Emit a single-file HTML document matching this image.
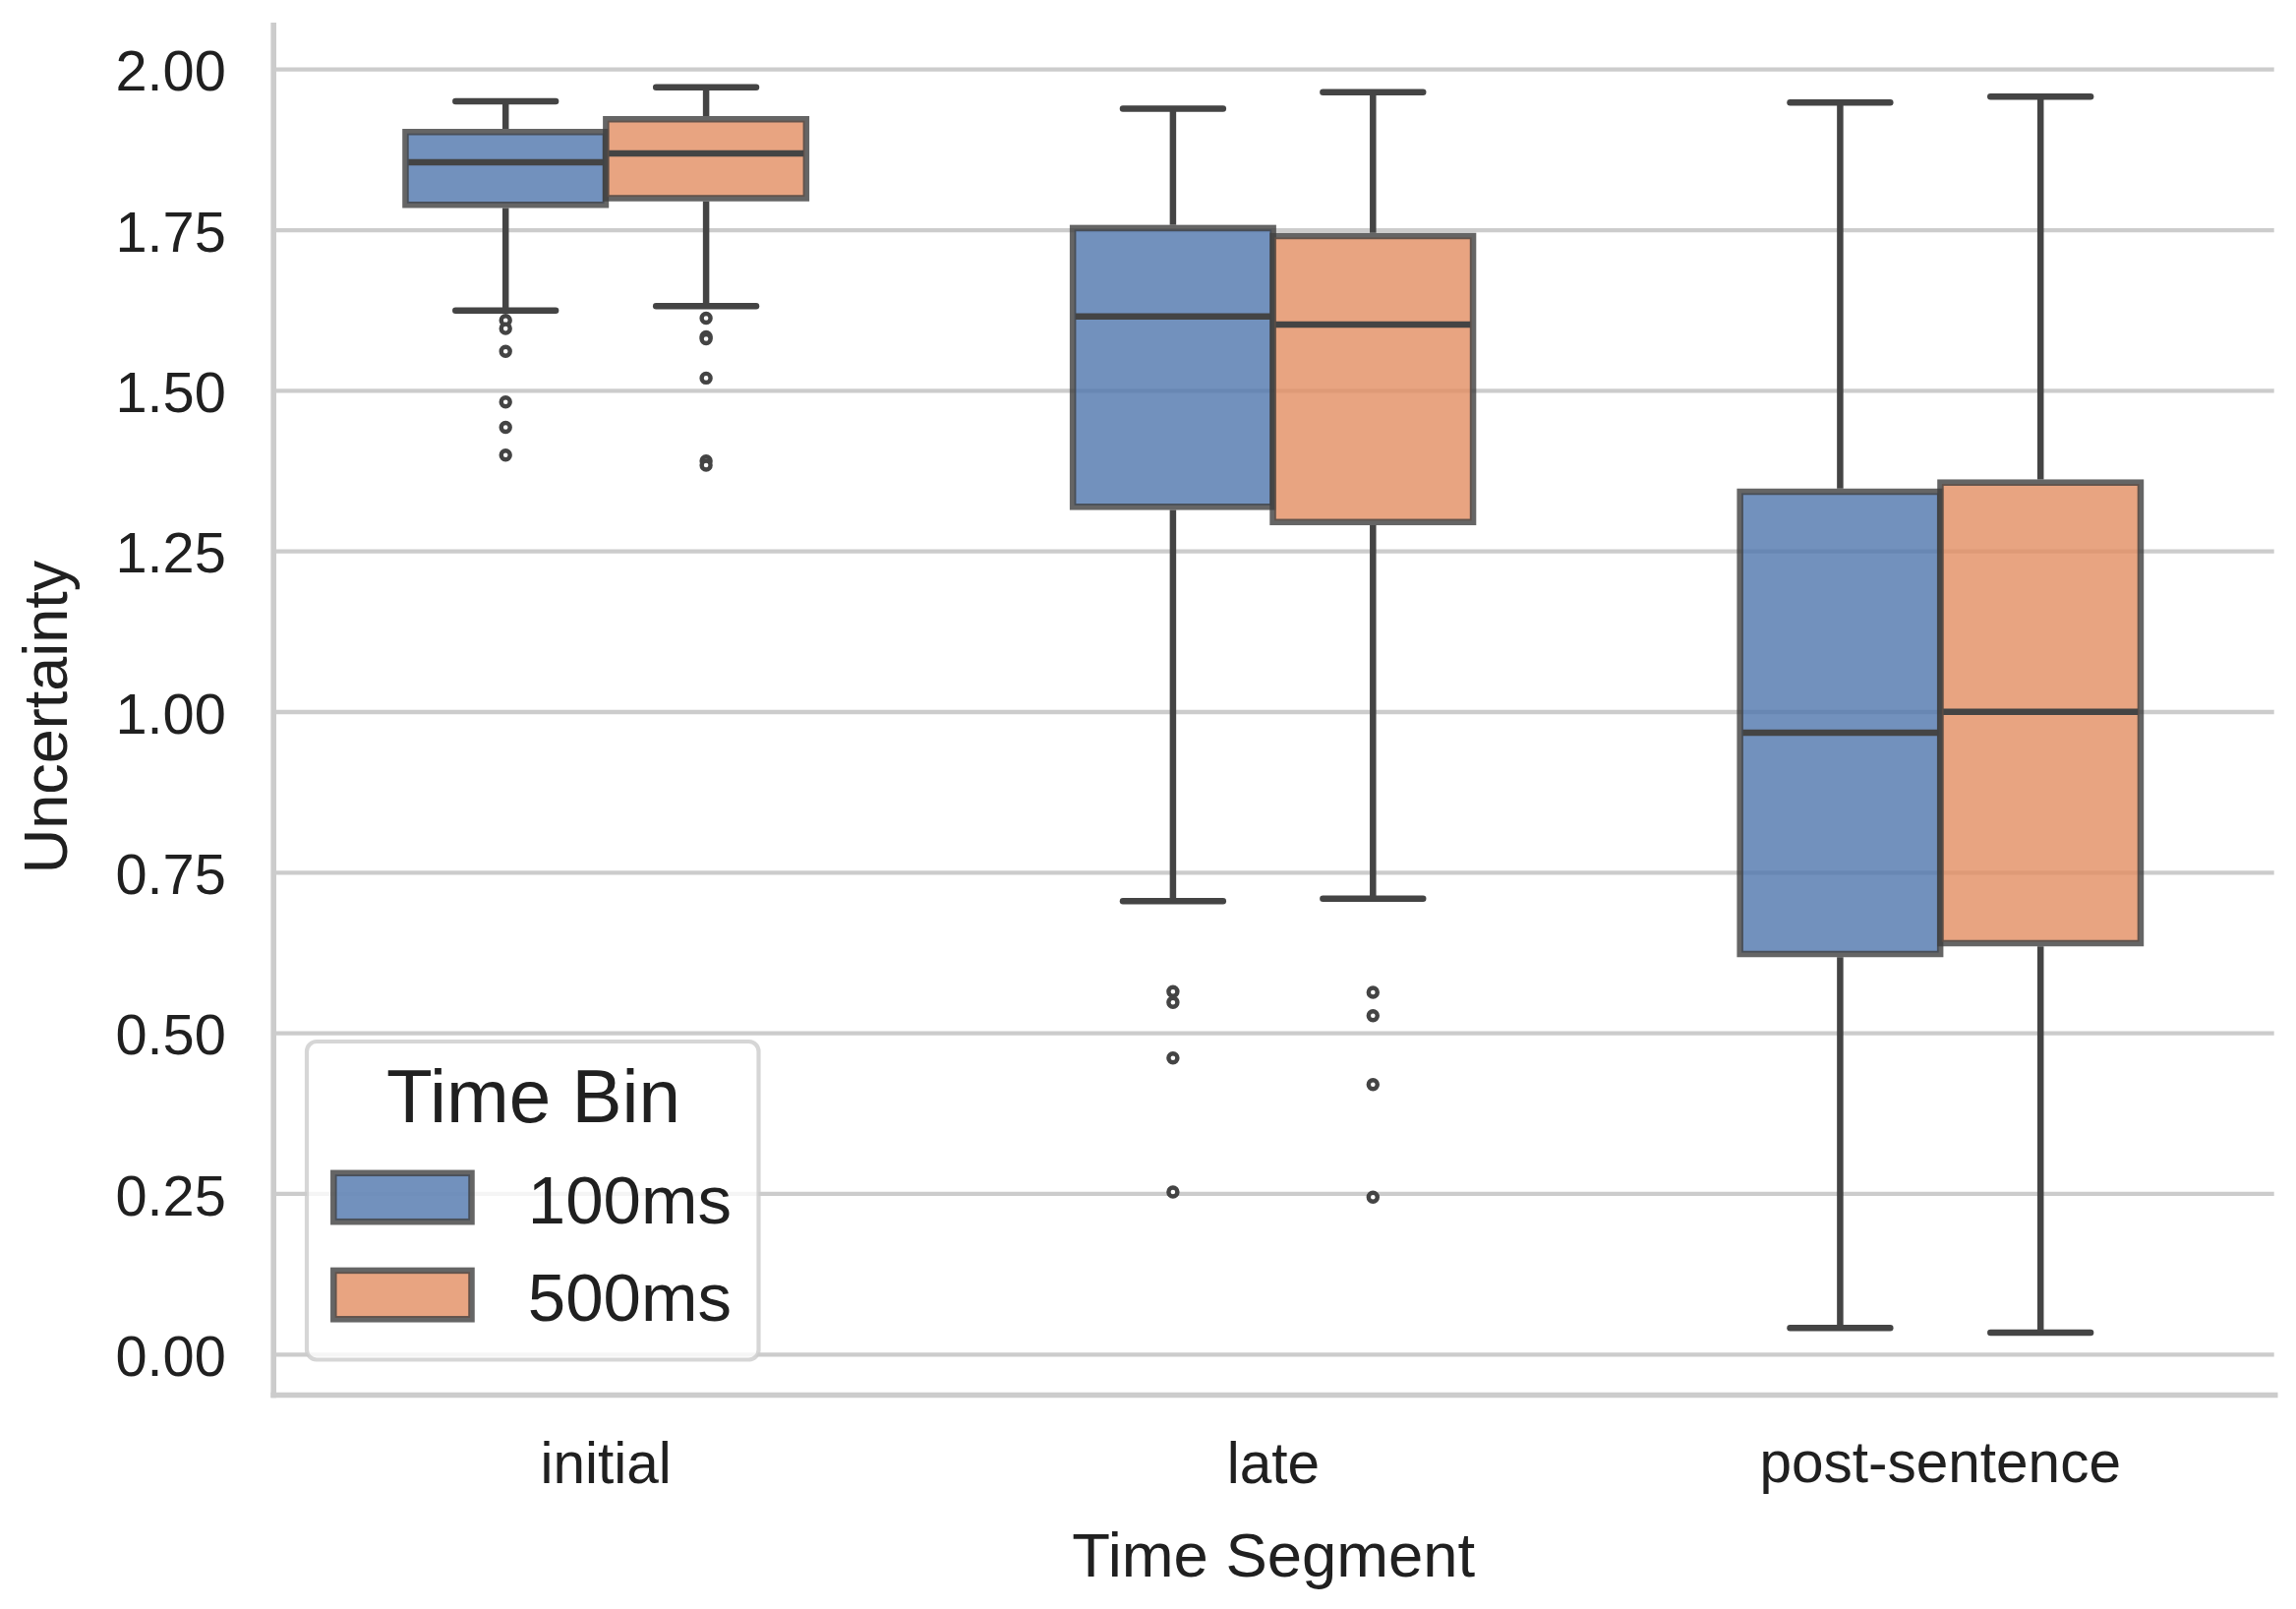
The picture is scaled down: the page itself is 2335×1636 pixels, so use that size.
<!DOCTYPE html>
<html lang="en"><head><meta charset="utf-8"><title>Uncertainty by Time Segment</title>
<style>
html,body{margin:0;padding:0;background:#fff;}
body{width:2335px;height:1636px;overflow:hidden;}
svg{display:block;}
</style></head><body>
<svg width="2335" height="1636" viewBox="0 0 2335 1636">
<rect width="2335" height="1636" fill="#ffffff"/>
<g>
<g stroke="#cccccc" stroke-width="4.3">
<line x1="278.2" x2="2312.7" y1="1377.30" y2="1377.30"/>
<line x1="278.2" x2="2312.7" y1="1213.97" y2="1213.97"/>
<line x1="278.2" x2="2312.7" y1="1050.65" y2="1050.65"/>
<line x1="278.2" x2="2312.7" y1="887.33" y2="887.33"/>
<line x1="278.2" x2="2312.7" y1="724.00" y2="724.00"/>
<line x1="278.2" x2="2312.7" y1="560.67" y2="560.67"/>
<line x1="278.2" x2="2312.7" y1="397.35" y2="397.35"/>
<line x1="278.2" x2="2312.7" y1="234.03" y2="234.03"/>
<line x1="278.2" x2="2312.7" y1="70.70" y2="70.70"/>
</g>
<rect x="413.85" y="135.65" width="200.70" height="71.20" fill="#4f76ad" fill-opacity="0.8"/>
<rect x="412.45" y="134.25" width="203.50" height="74.00" fill="none" stroke="#3f3f3f" stroke-opacity="0.8" stroke-width="6.5"/>
<g stroke="#444444" stroke-width="6.5" stroke-linecap="round" fill="none">
<line x1="514.2" x2="514.2" y1="103.00" y2="131.00" stroke-linecap="butt"/>
<line x1="514.2" x2="514.2" y1="211.50" y2="315.70" stroke-linecap="butt"/>
<line x1="463.30" x2="565.10" y1="103.00" y2="103.00"/>
<line x1="463.30" x2="565.10" y1="315.70" y2="315.70"/>
<line x1="415.20" x2="613.20" y1="165.00" y2="165.00" stroke-linecap="butt"/>
</g>
<g stroke="#444444" stroke-width="4.4" fill="#ffffff">
<circle cx="514.2" cy="325.70" r="4.5"/>
<circle cx="514.2" cy="334.10" r="4.5"/>
<circle cx="514.2" cy="357.30" r="4.5"/>
<circle cx="514.2" cy="408.80" r="4.5"/>
<circle cx="514.2" cy="434.50" r="4.5"/>
<circle cx="514.2" cy="462.70" r="4.5"/>
</g>
<rect x="1092.55" y="233.30" width="200.70" height="280.60" fill="#4f76ad" fill-opacity="0.8"/>
<rect x="1091.15" y="231.90" width="203.50" height="283.40" fill="none" stroke="#3f3f3f" stroke-opacity="0.8" stroke-width="6.5"/>
<g stroke="#444444" stroke-width="6.5" stroke-linecap="round" fill="none">
<line x1="1192.9" x2="1192.9" y1="110.40" y2="228.65" stroke-linecap="butt"/>
<line x1="1192.9" x2="1192.9" y1="518.55" y2="916.30" stroke-linecap="butt"/>
<line x1="1142.00" x2="1243.80" y1="110.40" y2="110.40"/>
<line x1="1142.00" x2="1243.80" y1="916.30" y2="916.30"/>
<line x1="1093.90" x2="1291.90" y1="321.75" y2="321.75" stroke-linecap="butt"/>
</g>
<g stroke="#444444" stroke-width="4.4" fill="#ffffff">
<circle cx="1192.9" cy="1008.30" r="4.5"/>
<circle cx="1192.9" cy="1019.30" r="4.5"/>
<circle cx="1192.9" cy="1075.70" r="4.5"/>
<circle cx="1192.9" cy="1212.00" r="4.5"/>
</g>
<rect x="1771.05" y="501.40" width="200.70" height="467.20" fill="#4f76ad" fill-opacity="0.8"/>
<rect x="1769.65" y="500.00" width="203.50" height="470.00" fill="none" stroke="#3f3f3f" stroke-opacity="0.8" stroke-width="6.5"/>
<g stroke="#444444" stroke-width="6.5" stroke-linecap="round" fill="none">
<line x1="1871.4" x2="1871.4" y1="104.30" y2="496.75" stroke-linecap="butt"/>
<line x1="1871.4" x2="1871.4" y1="973.25" y2="1350.30" stroke-linecap="butt"/>
<line x1="1820.50" x2="1922.30" y1="104.30" y2="104.30"/>
<line x1="1820.50" x2="1922.30" y1="1350.30" y2="1350.30"/>
<line x1="1772.40" x2="1970.40" y1="745.00" y2="745.00" stroke-linecap="butt"/>
</g>
<rect x="617.75" y="122.65" width="200.70" height="77.45" fill="#e28d61" fill-opacity="0.8"/>
<rect x="616.35" y="121.25" width="203.50" height="80.25" fill="none" stroke="#3f3f3f" stroke-opacity="0.8" stroke-width="6.5"/>
<g stroke="#444444" stroke-width="6.5" stroke-linecap="round" fill="none">
<line x1="718.1" x2="718.1" y1="88.75" y2="118.00" stroke-linecap="butt"/>
<line x1="718.1" x2="718.1" y1="204.75" y2="311.30" stroke-linecap="butt"/>
<line x1="667.20" x2="769.00" y1="88.75" y2="88.75"/>
<line x1="667.20" x2="769.00" y1="311.30" y2="311.30"/>
<line x1="619.10" x2="817.10" y1="156.00" y2="156.00" stroke-linecap="butt"/>
</g>
<g stroke="#444444" stroke-width="4.4" fill="#ffffff">
<circle cx="718.1" cy="323.50" r="4.5"/>
<circle cx="718.1" cy="342.50" r="4.5"/>
<circle cx="718.1" cy="344.50" r="4.5"/>
<circle cx="718.1" cy="384.40" r="4.5"/>
<circle cx="718.1" cy="468.70" r="4.5"/>
<circle cx="718.1" cy="473.00" r="4.5"/>
</g>
<rect x="1295.95" y="241.40" width="200.70" height="288.00" fill="#e28d61" fill-opacity="0.8"/>
<rect x="1294.55" y="240.00" width="203.50" height="290.80" fill="none" stroke="#3f3f3f" stroke-opacity="0.8" stroke-width="6.5"/>
<g stroke="#444444" stroke-width="6.5" stroke-linecap="round" fill="none">
<line x1="1396.3" x2="1396.3" y1="93.75" y2="236.75" stroke-linecap="butt"/>
<line x1="1396.3" x2="1396.3" y1="534.05" y2="913.70" stroke-linecap="butt"/>
<line x1="1345.40" x2="1447.20" y1="93.75" y2="93.75"/>
<line x1="1345.40" x2="1447.20" y1="913.70" y2="913.70"/>
<line x1="1297.30" x2="1495.30" y1="330.00" y2="330.00" stroke-linecap="butt"/>
</g>
<g stroke="#444444" stroke-width="4.4" fill="#ffffff">
<circle cx="1396.3" cy="1009.00" r="4.5"/>
<circle cx="1396.3" cy="1032.70" r="4.5"/>
<circle cx="1396.3" cy="1102.70" r="4.5"/>
<circle cx="1396.3" cy="1217.30" r="4.5"/>
</g>
<rect x="1974.85" y="492.10" width="200.70" height="465.50" fill="#e28d61" fill-opacity="0.8"/>
<rect x="1973.45" y="490.70" width="203.50" height="468.30" fill="none" stroke="#3f3f3f" stroke-opacity="0.8" stroke-width="6.5"/>
<g stroke="#444444" stroke-width="6.5" stroke-linecap="round" fill="none">
<line x1="2075.2" x2="2075.2" y1="98.30" y2="487.45" stroke-linecap="butt"/>
<line x1="2075.2" x2="2075.2" y1="962.25" y2="1355.00" stroke-linecap="butt"/>
<line x1="2024.30" x2="2126.10" y1="98.30" y2="98.30"/>
<line x1="2024.30" x2="2126.10" y1="1355.00" y2="1355.00"/>
<line x1="1976.20" x2="2174.20" y1="723.70" y2="723.70" stroke-linecap="butt"/>
</g>
<g stroke="#cccccc" stroke-width="5.6" stroke-linecap="square" fill="none">
<line x1="278.2" x2="278.2" y1="25.80" y2="1418.5"/>
<line x1="278.2" x2="2313.7" y1="1418.5" y2="1418.5"/>
</g>
<rect x="312" y="1059" width="459.5" height="323.5" rx="10" ry="10" fill="#ffffff" fill-opacity="0.8" stroke="#cccccc" stroke-opacity="0.8" stroke-width="4.2"/>
<rect x="340.7" y="1194.20" width="137.39999999999998" height="46.6" fill="#4f76ad" fill-opacity="0.8"/>
<rect x="339.3" y="1192.80" width="140.2" height="49.4" fill="none" stroke="#3f3f3f" stroke-opacity="0.8" stroke-width="6.5"/>
<rect x="340.7" y="1293.30" width="137.39999999999998" height="46.6" fill="#e28d61" fill-opacity="0.8"/>
<rect x="339.3" y="1291.90" width="140.2" height="49.4" fill="none" stroke="#3f3f3f" stroke-opacity="0.8" stroke-width="6.5"/>
<g font-family="Liberation Sans, Arial, Helvetica, sans-serif" fill="#202020">
<text x="542.6" y="1141.25" font-size="76.5" text-anchor="middle">Time Bin</text>
<text x="536.8" y="1243.75" font-size="69">100ms</text>
<text x="536.8" y="1342.75" font-size="69">500ms</text>
<g font-size="57.75" text-anchor="end">
<text x="229.8" y="1398.90">0.00</text>
<text x="229.8" y="1235.57">0.25</text>
<text x="229.8" y="1072.25">0.50</text>
<text x="229.8" y="908.93">0.75</text>
<text x="229.8" y="745.60">1.00</text>
<text x="229.8" y="582.27">1.25</text>
<text x="229.8" y="418.95">1.50</text>
<text x="229.8" y="255.63">1.75</text>
<text x="229.8" y="92.30">2.00</text>
</g>
<g font-size="58.5" text-anchor="middle">
<text x="616.2" y="1508.3">initial</text>
<text x="1295.0" y="1508.3">late</text>
<text x="1973.2" y="1506.6">post-sentence</text>
</g>
<text x="1295.2" y="1603.25" font-size="63.4" text-anchor="middle">Time Segment</text>
<text transform="translate(68.2,729.0) rotate(-90)" font-size="63" text-anchor="middle">Uncertainty</text>
</g>
</g>
</svg>
</body></html>
